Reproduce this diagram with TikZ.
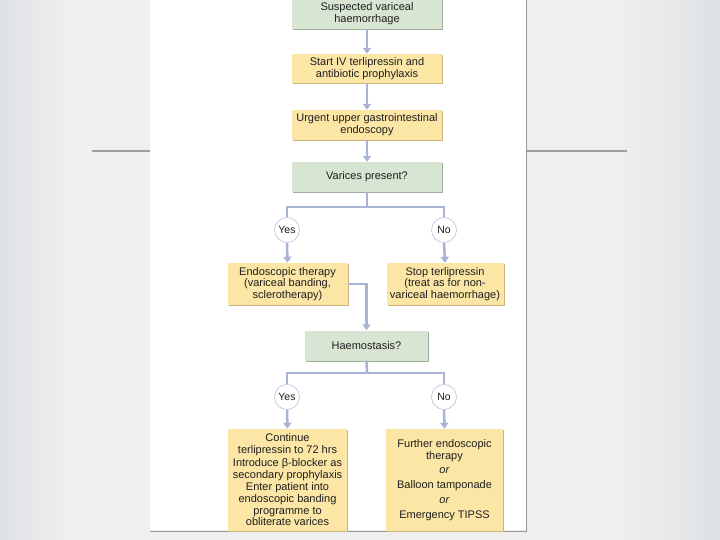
\documentclass[tikz,border=0pt]{standalone}
\usepackage{fontspec}
\setmainfont{Liberation Sans}
\usetikzlibrary{arrows.meta,shadows}

\definecolor{bgedge}{HTML}{DEE1E4}
\definecolor{bgmid}{HTML}{EFEFEF}
\definecolor{qgreen}{HTML}{D9E5D3}
\definecolor{qgreenshd}{HTML}{9FAD9C}
\definecolor{actyel}{HTML}{FCE6A6}
\definecolor{actyelshd}{HTML}{CDB37C}
\definecolor{linkblue}{HTML}{A9B3D8}
\definecolor{txtdark}{HTML}{1E1E1E}

\begin{document}
\begin{tikzpicture}[
        x=1pt, y=-1pt,
        box/.style={rectangle, align=center, inner sep=1pt, text=txtdark,
          font=\fontsize{11}{11.7}\selectfont},
        question/.style={box, fill=qgreen, drop shadow={shadow xshift=1.3pt,
          shadow yshift=-1.3pt, opacity=1, fill=qgreenshd}},
        action/.style={box, fill=actyel, drop shadow={shadow xshift=1.3pt,
          shadow yshift=-1.3pt, opacity=1, fill=actyelshd}},
        answer/.style={circle, draw=linkblue!80, line width=0.6pt, fill=white,
          minimum size=25pt, inner sep=0pt, text=txtdark,
          font=\fontsize{10.5}{11}\selectfont},
        link/.style={draw=linkblue, line width=2.5pt},
        arr/.style={link, -{Triangle[width=8pt,length=6pt]}},
      ]
        \def\xl{287}  % left column
        \def\xm{367}  % middle column
        \def\xr{444}  % right column

        % slide and page
        \useasboundingbox (0,0) rectangle (720,540);
        \fill[bgmid] (0,0) rectangle (720,540);
        \shade[left color=bgedge, right color=bgmid] (0,0) rectangle (70,540);
        \shade[left color=bgmid, right color=bgedge] (620,0) rectangle (720,540);
        \draw[gray!75, line width=1.5pt] (92,151) -- (150,151);
        \draw[gray!75, line width=1.5pt] (527,151) -- (627,151);
        \fill[white] (150,-2) rectangle (526,530);
        \draw[gray!80, line width=1pt] (526.5,-2) -- (526.5,531) -- (150,531);

        % first steps
        \node[question, minimum width=150pt, minimum height=30pt] (susp) at (\xm,14)
          {Suspected variceal\\haemorrhage};
        \node[action, minimum width=150pt, minimum height=29pt] (terli) at (\xm,68.5)
          {Start IV terlipressin and\\antibiotic prophylaxis};
        \node[action, minimum width=150pt, minimum height=30pt] (endosc) at (\xm,125)
          {Urgent upper gastrointestinal\\endoscopy};
        \node[question, minimum width=150pt, minimum height=30pt] (varices) at (\xm,177)
          {Varices present?};
        \draw[arr] (susp.south) -- (terli.north);
        \draw[arr] (terli.south) -- (endosc.north);
        \draw[arr] (endosc.south) -- (varices.north);

        % varices: yes / no
        \coordinate (vsplit) at (\xm,207);
        \node[answer] (vyes) at (\xl,230) {Yes};
        \node[answer] (vno) at (\xr,230) {No};
        \node[action, minimum width=120pt, minimum height=42pt] (therapy) at (287.5,284)
          {Endoscopic therapy\\(variceal banding,\\sclerotherapy)};
        \node[action, minimum width=117pt, minimum height=42pt] (stop) at (445,284)
          {Stop terlipressin\\(treat as for non-\\variceal haemorrhage)};
        \draw[link] (varices.south) -- (vsplit);
        \draw[link] (vsplit) -| (vyes.north);
        \draw[link] (vsplit) -| (vno.north);
        \draw[arr] (vyes.south) -- (therapy.north);
        \draw[arr] (vno.south) -- (stop.north);

        % haemostasis
        \node[question, minimum width=123pt, minimum height=30pt] (haemo) at (366.5,345.5)
          {Haemostasis?};
        \draw[arr] (therapy.east) -| (haemo.north);

        % haemostasis: yes / no
        \coordinate (hsplit) at (\xm,373);
        \node[answer] (hyes) at (\xl,397) {Yes};
        \node[answer] (hno) at (\xr,397) {No};
        \node[action, minimum width=119pt, minimum height=102pt] (cont) at (287.5,480)
          {Continue\\terlipressin to 72 hrs\\[1pt]Introduce β-blocker as\\secondary prophylaxis\\[1pt]
           Enter patient into\\endoscopic banding\\programme to\\obliterate varices};
        \node[action, minimum width=117pt, minimum height=102pt] (further) at (444.5,480)
          {Further endoscopic\\therapy\\[3pt]\textit{or}\\[3pt]Balloon tamponade\\[3pt]\textit{or}\\[3pt]
           Emergency TIPSS};
        \draw[link] (haemo.south) -- (hsplit);
        \draw[link] (hsplit) -| (hyes.north);
        \draw[link] (hsplit) -| (hno.north);
        \draw[arr] (hyes.south) -- (cont.north);
        \draw[arr] (hno.south) -- (further.north);
      \end{tikzpicture}
\end{document}
